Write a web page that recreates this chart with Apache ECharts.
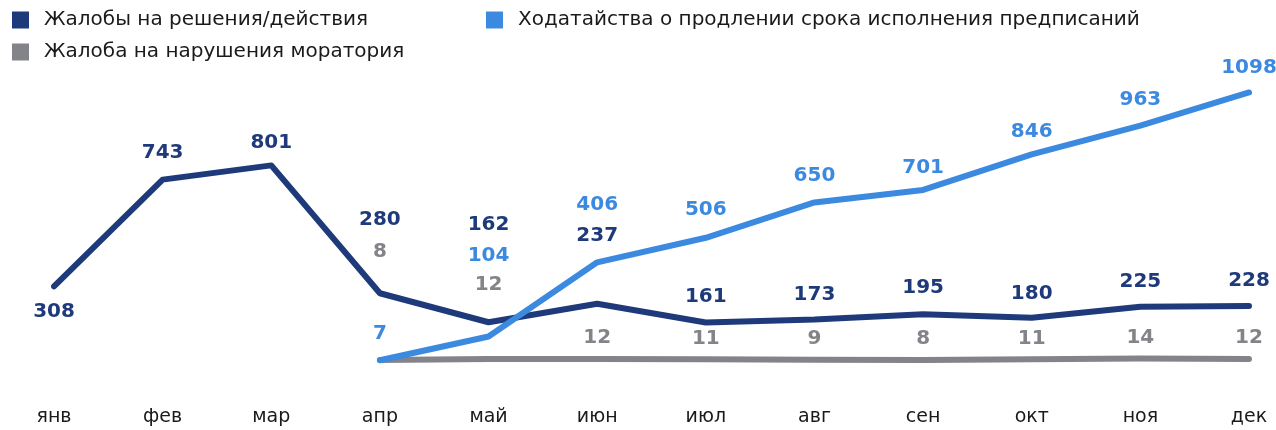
<!DOCTYPE html>
<html><head><meta charset="utf-8">
<script src="https://cdn.jsdelivr.net/npm/echarts@6/dist/echarts.min.js"></script>
<style>html,body{margin:0;padding:0;background:#fff}#c{width:1276px;height:430px}</style>
</head><body><div id="c"></div>
<script>
const months = ['янв','фев','мар','апр','май','июн','июл','авг','сен','окт','ноя','дек'];
const complaints = [308,743,801,280,162,237,161,173,195,180,225,228];
const petitions = [null,null,null,7,104,406,506,650,701,846,963,1098];
const moratorium = [null,null,null,8,12,12,11,9,8,11,14,12];
const names = ['Жалобы на решения/действия','Ходатайства о продлении срока исполнения предписаний','Жалоба на нарушения моратория'];

// label lift above point (px), style only
const liftDark = [-25,27,23,73,97,68,26,25,26,24,25,25];
const liftBlue = [0,0,0,26,81,58,28,27,22,23,26,25];
const liftGray = [0,0,0,108,74,21,21,21,21,21,21,21];

const colors = ['#1f3a7a','#3c89e0','#838489'];
const FONT = 'DejaVu Sans';

function build(vals, lifts, color){
  return vals.map((v,i)=> v==null ? null : ({
    value: v,
    label: {show:true, position:'inside', offset:[0,-lifts[i]], color: color,
      fontFamily: FONT, fontWeight: 'bold', fontSize: 20}
  }));
}

const chart = echarts.init(document.getElementById('c'), null, {renderer:'canvas'});
function legendAt(name, left, top){
  return {show:true, data:[name], left:left, top:top, icon:'rect', itemWidth:17, itemHeight:17,
    itemGap:0, padding:0, selectedMode:false,
    textStyle:{fontFamily:FONT, fontSize:20, color:'#1a1a1a', padding:[0,0,0,10]}};
}
chart.setOption({
  animation:false,
  legend:[legendAt(names[0],12,10), legendAt(names[1],486,10), legendAt(names[2],12,42)],
  grid:{left:54, right:27, top:92, bottom:68},
  xAxis:{type:'category', data:months, boundaryGap:false,
    axisLine:{show:false}, axisTick:{show:false}, splitLine:{show:false},
    axisLabel:{margin:46, fontFamily:FONT, fontSize:19, color:'#1a1a1a'}},
  yAxis:{type:'value', min:0, max:1100, show:false, splitLine:{show:false}},
  series:[
    {name:names[0], type:'line', data:build(complaints, liftDark, colors[0]), z:3,
      symbol:'circle', symbolSize:1, itemStyle:{color:colors[0]},
      lineStyle:{width:6, color:colors[0], cap:'round', join:'round'}},
    {name:names[1], type:'line', data:build(petitions, liftBlue, colors[1]), z:4,
      symbol:'circle', symbolSize:1, itemStyle:{color:colors[1]},
      lineStyle:{width:6, color:colors[1], cap:'round', join:'round'}},
    {name:names[2], type:'line', data:build(moratorium, liftGray, colors[2]), z:2,
      symbol:'circle', symbolSize:1, itemStyle:{color:colors[2]},
      lineStyle:{width:6, color:colors[2], cap:'round', join:'round'}}
  ]
});
</script></body></html>
